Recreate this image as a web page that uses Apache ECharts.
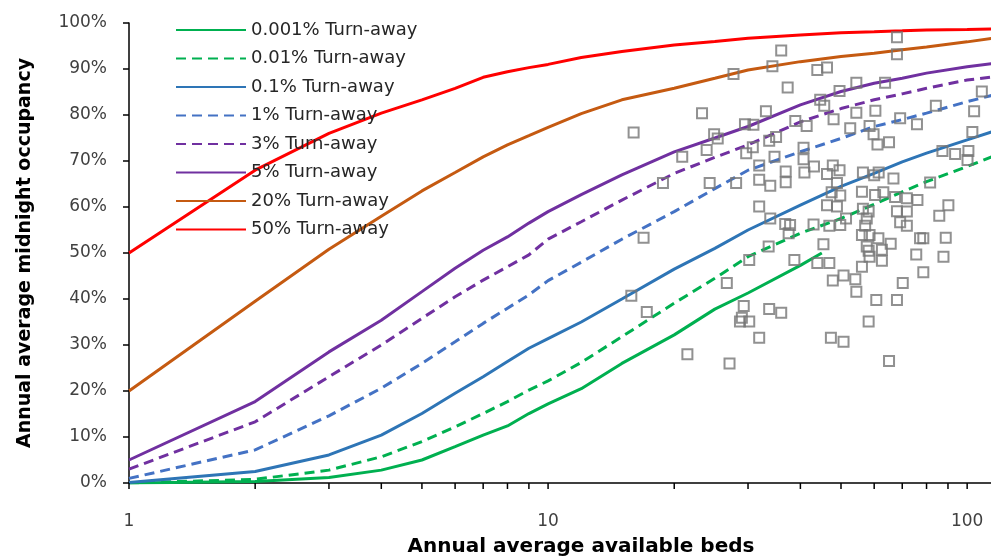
<!DOCTYPE html>
<html>
<head>
<meta charset="utf-8">
<script src="https://cdn.jsdelivr.net/npm/echarts@6.0.0/dist/echarts.min.js"></script>
<style>
  html, body { margin: 0; padding: 0; background: #fff; }
  #chart { width: 991px; height: 557px; }
</style>
</head>
<body>
<div id="chart"></div>
<script>
// beds grid used by the turn-away curves
var beds = [1, 2, 3, 4, 5, 6, 7, 8, 9, 10, 12, 15, 20, 25, 30, 40, 50, 60, 70, 80, 100, 115]
var bedsLow = [1, 2, 3, 4, 5, 6, 7, 8, 9, 10, 12, 15, 20, 25, 30, 40, 45]

// occupancy (%) per turn-away level
var occ0001 = [0, 0.3, 1.2, 2.8, 5, 7.9, 10.4, 12.4, 15.1, 17.2, 20.5, 26, 32.2, 37.8, 41.3, 47.3, 50]
var occ001 = [0, 0.8, 2.8, 5.7, 9, 12.2, 15.1, 17.7, 20.2, 22.2, 26.2, 31.8, 39.1, 44.5, 49.2, 54.3, 57.5, 60.6, 63.3, 65.5, 68.8, 71]
var occ01 = [0.1, 2.5, 6.1, 10.4, 15.1, 19.5, 23.1, 26.4, 29.3, 31.4, 35, 40, 46.5, 51, 55, 60.4, 64.5, 67.3, 69.8, 71.7, 74.6, 76.4]
var occ1 = [1, 7.2, 14.6, 20.6, 26, 30.7, 34.7, 38, 40.9, 44, 48, 53, 59, 64, 68, 72, 74.9, 77.5, 79, 80.4, 82.9, 84.3]
var occ3 = [3, 13.3, 23.1, 30, 35.8, 40.5, 44.1, 47, 49.6, 53, 56.8, 61.5, 67.3, 70.8, 73.5, 78.5, 81.4, 83.3, 84.6, 85.8, 87.6, 88.3]
var occ5 = [5, 17.7, 28.5, 35.4, 41.6, 46.7, 50.6, 53.5, 56.5, 59, 62.7, 67, 72, 75, 77.5, 82.2, 85.1, 86.9, 88, 89.1, 90.5, 91.2]
var occ20 = [20, 39.5, 50.8, 58, 63.5, 67.5, 70.9, 73.5, 75.5, 77.3, 80.3, 83.3, 85.8, 88, 89.8, 91.6, 92.7, 93.4, 94.2, 94.8, 95.9, 96.7]
var occ50 = [50, 68, 76, 80.4, 83.3, 85.8, 88.2, 89.4, 90.3, 91, 92.5, 93.8, 95.2, 96, 96.7, 97.4, 97.9, 98.1, 98.3, 98.5, 98.6, 98.7]

// observed hospitals
var hospBeds = [68.0, 68.0, 36.0, 34.3, 27.7, 43.9, 46.3, 37.3, 54.4, 63.7, 49.6, 108.4, 44.6, 45.6, 84.2, 103.9, 23.3, 33.1, 54.4, 60.4,
  48.0, 38.9, 69.2, 41.4, 75.9, 29.5, 30.9, 16.0, 52.6, 58.5, 102.9, 24.9, 25.4, 35.0, 33.7, 59.8, 61.1, 65.1, 23.9, 20.9,
  30.8, 29.7, 40.7, 34.7, 40.7, 87.3, 93.6, 100.7, 100.2, 31.9, 43.1, 47.8, 49.6, 36.9, 40.9, 46.3, 56.4, 61.5, 60.0, 66.7,
  31.9, 36.9, 18.8, 24.3, 28.1, 33.9, 81.6, 48.9, 47.5, 49.8, 56.1, 60.3, 63.1, 67.3, 71.8, 76.1, 31.9, 33.9, 46.3, 48.9,
  56.4, 58.2, 68.0, 71.8, 90.2, 85.8, 36.8, 37.8, 37.5, 43.0, 46.9, 49.8, 51.4, 57.6, 57.1, 69.2, 71.8, 16.9, 33.6, 45.4,
  56.1, 58.5, 61.4, 65.7, 77.2, 78.6, 88.9, 57.6, 58.2, 62.6, 58.5, 62.6, 75.6, 87.8, 30.2, 38.7, 43.9, 46.9, 56.1, 78.6,
  26.7, 50.7, 47.8, 54.1, 70.2, 54.4, 15.8, 60.7, 68.0, 17.2, 29.3, 33.7, 36.0, 29.0, 28.7, 30.2, 58.2, 31.9, 47.3, 50.7,
  21.5, 27.1, 65.1]
var hospOcc = [96.9, 93.2, 94.0, 90.6, 88.9, 89.8, 90.3, 86.0, 87.0, 87.0, 85.2, 85.1, 83.3, 82.0, 82.0, 80.8, 80.4, 80.8, 80.5, 80.9,
  79.1, 78.7, 79.3, 77.6, 78.0, 78.0, 77.9, 76.2, 77.1, 77.6, 76.3, 75.8, 74.9, 75.2, 74.4, 75.8, 73.6, 74.1, 72.4, 70.9,
  73.0, 71.7, 72.9, 70.9, 70.4, 72.2, 71.5, 72.2, 70.2, 69.0, 68.8, 69.0, 68.0, 67.7, 67.5, 67.2, 67.5, 67.5, 66.9, 66.2,
  65.9, 65.4, 65.2, 65.2, 65.2, 64.6, 65.3, 65.2, 63.2, 62.5, 63.3, 62.6, 63.2, 62.2, 61.9, 61.5, 60.1, 57.5, 60.4, 60.1,
  59.6, 59.0, 59.1, 59.0, 60.4, 58.1, 56.3, 56.1, 54.3, 56.2, 55.9, 56.1, 57.5, 57.5, 55.9, 56.7, 55.9, 53.3, 51.4, 51.9,
  53.9, 53.9, 53.2, 52.0, 53.2, 53.2, 53.3, 51.4, 50.5, 50.7, 49.2, 48.3, 49.7, 49.2, 48.5, 48.5, 47.8, 47.8, 47.0, 45.8,
  43.5, 45.1, 44.0, 44.3, 43.5, 41.6, 40.7, 39.8, 39.8, 37.2, 38.5, 37.8, 37.0, 35.9, 35.1, 35.1, 35.1, 31.6, 31.6, 30.7,
  28.0, 26.0, 26.5]

var xTicks = [1, 2, 3, 4, 5, 6, 7, 8, 9, 10, 20, 30, 40, 50, 60, 70, 80, 90, 100]
var xTickLabels = [1, 10, 100]
var yTicks = [0, 10, 20, 30, 40, 50, 60, 70, 80, 90, 100]

function pairs(xs, ys) {
  return xs.map(function (x, i) { return [x, ys[i]] })
}

function curve(name, xs, ys, color, dashed) {
  return {
    name: name,
    type: 'line',
    data: pairs(xs, ys),
    symbol: 'none',
    // transparent item colour keeps the legend icon to the line only
    itemStyle: { color: 'rgba(0,0,0,0)', borderWidth: 0 },
    lineStyle: { color: color, width: 3, type: dashed ? [10, 6] : 'solid' }
  }
}

var fontName = 'DejaVu Sans'
var chart = echarts.init(document.getElementById('chart'))
chart.setOption({
  animation: false,
  grid: { left: 129, right: 0, top: 23, bottom: 74, outerBoundsMode: 'none' },
  legend: {
    data: ['0.001% Turn-away', '0.01% Turn-away', '0.1% Turn-away', '1% Turn-away',
      '3% Turn-away', '5% Turn-away', '20% Turn-away', '50% Turn-away'],
    orient: 'vertical',
    left: 175,
    top: 21,
    padding: 0,
    itemWidth: 70,
    itemHeight: 12,
    itemGap: 10.5,
    textStyle: { fontFamily: fontName, fontSize: 18, lineHeight: 18, color: '#262626' }
  },
  xAxis: {
    type: 'log',
    min: 1,
    max: 114,
    name: 'Annual average available beds',
    nameLocation: 'middle',
    nameGap: 54,
    nameTextStyle: { fontFamily: fontName, fontSize: 20, fontWeight: 'bold', color: '#000', padding: [0, 0, 0, 42] },
    axisLine: { show: true, lineStyle: { color: '#000', width: 1.5 } },
    axisTick: { show: false },
    axisLabel: { customValues: xTickLabels, margin: 30, fontFamily: fontName, fontSize: 17, color: '#404040' },
    splitLine: { show: false }
  },
  yAxis: {
    type: 'value',
    min: 0,
    max: 100,
    interval: 10,
    name: 'Annual average midnight occupancy',
    nameLocation: 'middle',
    nameGap: 94,
    nameTextStyle: { fontFamily: fontName, fontSize: 19, fontWeight: 'bold', color: '#000' },
    axisLine: { show: true, lineStyle: { color: '#000', width: 1.5 } },
    axisTick: { show: false },
    axisLabel: { formatter: '{value}%', margin: 22, fontFamily: fontName, fontSize: 17, color: '#404040' },
    splitLine: { show: false }
  },
  series: [
    curve('0.001% Turn-away', bedsLow, occ0001, '#00b050', false),
    curve('0.01% Turn-away', beds, occ001, '#00b050', true),
    curve('0.1% Turn-away', beds, occ01, '#2e75b6', false),
    curve('1% Turn-away', beds, occ1, '#4472c4', true),
    curve('3% Turn-away', beds, occ3, '#7030a0', true),
    curve('5% Turn-away', beds, occ5, '#7030a0', false),
    curve('20% Turn-away', beds, occ20, '#c55a11', false),
    curve('50% Turn-away', beds, occ50, '#ff0000', false),
    {
      name: 'Hospitals',
      type: 'scatter',
      data: pairs(hospBeds, hospOcc),
      symbol: 'rect',
      symbolSize: 10,
      itemStyle: { color: 'rgba(255,255,255,0)', borderColor: '#767676', borderWidth: 2 },
      z: 3
    }
  ]
})

// axis ticks placed through the chart's own scales
var axisX = chart.convertToPixel({ xAxisIndex: 0 }, 1)
var axisY = chart.convertToPixel({ yAxisIndex: 0 }, 0)
var marks = []
xTicks.forEach(function (v) {
  var px = chart.convertToPixel({ xAxisIndex: 0 }, v)
  marks.push({ type: 'line', z: 100, shape: { x1: px, y1: axisY, x2: px, y2: axisY + 6 }, style: { stroke: '#000', lineWidth: 1.5 } })
})
yTicks.forEach(function (v) {
  var py = chart.convertToPixel({ yAxisIndex: 0 }, v)
  marks.push({ type: 'line', z: 100, shape: { x1: axisX - 6, y1: py, x2: axisX, y2: py }, style: { stroke: '#000', lineWidth: 1.5 } })
})
chart.setOption({ graphic: { elements: marks } })
</script>
</body>
</html>
